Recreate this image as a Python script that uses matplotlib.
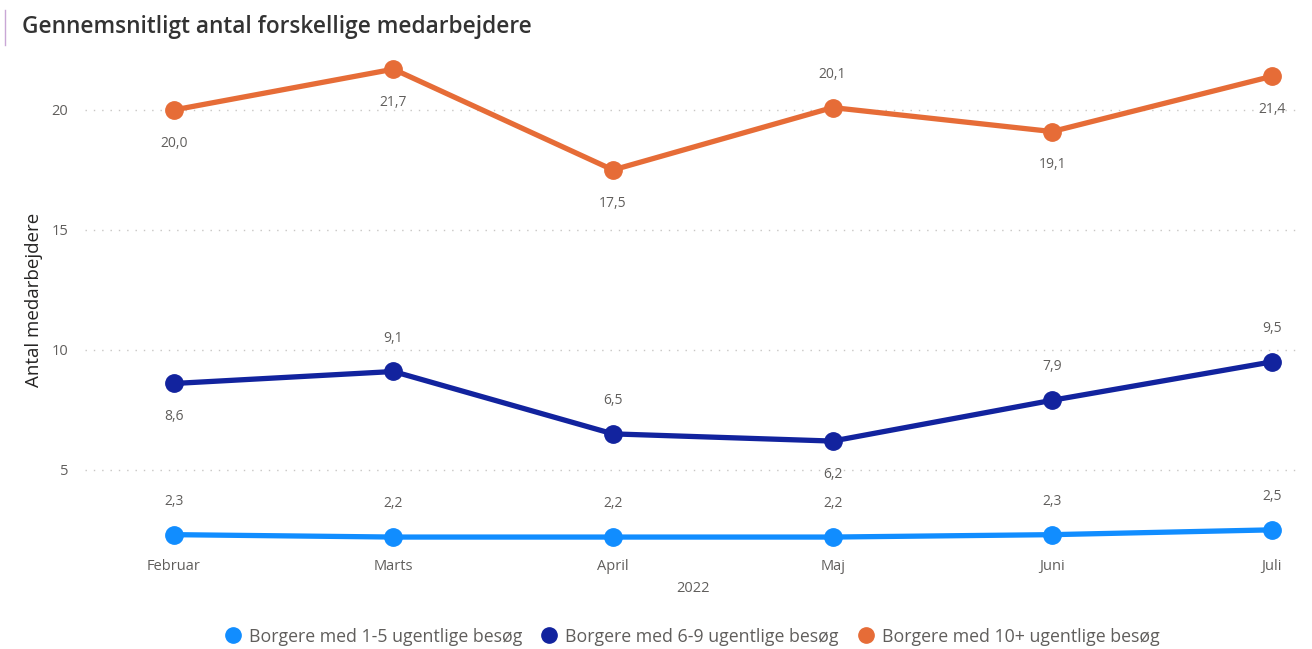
import matplotlib.pyplot as plt
from matplotlib.lines import Line2D

# Data
maaneder = ['Februar', 'Marts', 'April', 'Maj', 'Juni', 'Juli']
serie_1_5 = [2.3, 2.2, 2.2, 2.2, 2.3, 2.5]
serie_6_9 = [8.6, 9.1, 6.5, 6.2, 7.9, 9.5]
serie_10 = [20.0, 21.7, 17.5, 20.1, 19.1, 21.4]
navne = ['Borgere med 1-5 ugentlige besøg',
         'Borgere med 6-9 ugentlige besøg',
         'Borgere med 10+ ugentlige besøg']

# Label placering (1 = over, -1 = under)
pos_1_5 = [1, 1, 1, 1, 1, 1]
pos_6_9 = [-1, 1, 1, -1, 1, 1]
pos_10 = [-1, -1, -1, 1, -1, -1]

farver = ['#118DFF', '#12239E', '#E66C37']

plt.rcParams['font.family'] = ['Open Sans', 'DejaVu Sans']

fig = plt.figure(figsize=(13.12, 6.49), dpi=100)
ax = fig.add_axes([0.0648, 0.154, 0.9262, 0.769])

x = list(range(len(maaneder)))
for vals, pos, c in zip([serie_1_5, serie_6_9, serie_10],
                        [pos_1_5, pos_6_9, pos_10], farver):
    ax.plot(x, vals, color=c, lw=3.8, marker='o', ms=12.5, zorder=3,
            solid_capstyle='round')
    for xi, v, p in zip(x, vals, pos):
        ax.annotate(f'{v:.1f}'.replace('.', ','), (xi, v),
                    xytext=(0, 24 * p), textcoords='offset points',
                    ha='center', va='center', fontsize=10, color='#605E5C')

ax.set_xlim(-0.405, 5.13)
ax.set_ylim(1.7, 22.5)
ax.set_yticks([5, 10, 15, 20])
ax.set_yticklabels(['5', '10', '15', '20'])
ax.set_xticks(x)
ax.set_xticklabels(maaneder)
ax.tick_params(axis='both', length=0, labelsize=10.5, labelcolor='#605E5C')
ax.tick_params(axis='y', pad=12)
ax.tick_params(axis='x', pad=7)
ax.grid(axis='y', linestyle=(0, (1, 5)), color='#C8C6C4', lw=1)
for s in ax.spines.values():
    s.set_visible(False)

ax.set_ylabel('Antal medarbejdere', fontsize=13.5, color='#252423', labelpad=6)
ax.set_xlabel('2022', fontsize=10.5, color='#605E5C', labelpad=5)

# Titel
fig.text(0.0168, 0.958, 'Gennemsnitligt antal forskellige medarbejdere',
         fontsize=16.3, color='#333333', fontweight='semibold', va='center')
fig.add_artist(Line2D([0.004, 0.004], [0.93, 0.985], color='#C9A7D6', lw=1))

# Legend
handles = [Line2D([], [], marker='o', color=c, ls='none', ms=11) for c in farver]
fig.legend(handles, navne, loc='center', bbox_to_anchor=(0.524, 0.019),
           ncol=3, frameon=False, fontsize=12.8, handletextpad=-0.1,
           columnspacing=0.5, labelcolor='#605E5C')

fig.savefig('out.png', dpi=100)
